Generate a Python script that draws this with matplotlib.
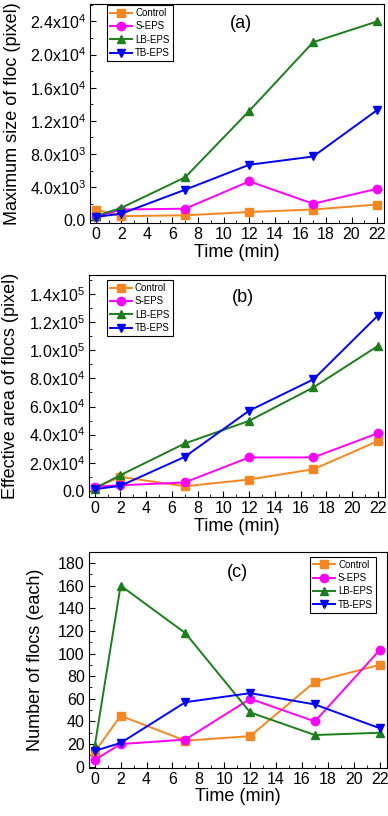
import numpy as np
import matplotlib
matplotlib.use('Agg')
import matplotlib.pyplot as plt
from matplotlib.ticker import FuncFormatter, MultipleLocator

plt.rcParams['font.family'] = ['Liberation Sans', 'DejaVu Sans']
plt.rcParams['mathtext.fontset'] = 'custom'
plt.rcParams['mathtext.rm'] = 'Liberation Sans'
plt.rcParams['mathtext.it'] = 'Liberation Sans'

# %% data
time = [0, 2, 7, 12, 17, 22]
series = ['Control', 'S-EPS', 'LB-EPS', 'TB-EPS']

max_size = {
    'Control': [1300, 500, 600, 1000, 1300, 1900],
    'S-EPS':   [400, 1300, 1400, 4700, 2000, 3800],
    'LB-EPS':  [500, 1500, 5200, 13200, 21500, 24000],
    'TB-EPS':  [400, 800, 3700, 6700, 7700, 13300],
}
eff_area = {
    'Control': [2400, 10000, 3300, 8100, 15400, 35400],
    'S-EPS':   [3000, 4000, 6000, 23800, 23800, 41000],
    'LB-EPS':  [1700, 11200, 33700, 49800, 73600, 103000],
    'TB-EPS':  [1200, 3600, 24200, 57000, 79300, 124600],
}
n_flocs = {
    'Control': [13, 45, 23, 27, 75, 90],
    'S-EPS':   [6, 20, 24, 60, 40, 103],
    'LB-EPS':  [18, 160, 118, 48, 28, 30],
    'TB-EPS':  [14, 21, 57, 65, 55, 34],
}

colors = {'Control': '#F7861E', 'S-EPS': '#FF00FF', 'LB-EPS': '#1B7F1B', 'TB-EPS': '#0000FF'}
markers = {'Control': 's', 'S-EPS': 'o', 'LB-EPS': '^', 'TB-EPS': 'v'}


def sci_fmt(v, pos):
    if abs(v) < 1e-9:
        return '0.0'
    e = int(np.floor(np.log10(abs(v)) + 1e-9))
    m = v / 10**e
    return f'{m:.1f}x10$^{{{e}}}$'


def panel(ax, data, tag, ylabel, ylim, ymaj, ymin, fmt, leg_loc, leg_anchor, tag_xy, ylab_x):
    for s in series:
        ax.plot(time, data[s], color=colors[s], marker=markers[s], markersize=6,
                linewidth=1.4, label=s)
    ax.set_xlim(-0.45, 22.55)
    ax.set_ylim(*ylim)
    ax.xaxis.set_major_locator(MultipleLocator(2))
    ax.xaxis.set_minor_locator(MultipleLocator(1))
    ax.yaxis.set_major_locator(MultipleLocator(ymaj))
    ax.yaxis.set_minor_locator(MultipleLocator(ymin))
    if fmt is not None:
        ax.yaxis.set_major_formatter(FuncFormatter(fmt))
    ax.tick_params(which='both', direction='in', labelsize=11.5, pad=3)
    ax.tick_params(which='major', length=4)
    ax.tick_params(which='minor', length=2)
    ax.set_xlabel('Time (min)', fontsize=13)
    ax.xaxis.set_label_coords(0.5, -0.095)
    ax.set_ylabel(ylabel, fontsize=13)
    ax.yaxis.set_label_coords(ylab_x, 0.5)
    ax.text(tag_xy[0], tag_xy[1], tag, transform=ax.transAxes, fontsize=13,
            ha='center', va='center')
    leg = ax.legend(loc=leg_loc, bbox_to_anchor=leg_anchor, fontsize=7,
                    borderaxespad=0, fancybox=False, edgecolor='black',
                    framealpha=1, handlelength=2.3, labelspacing=0.35,
                    borderpad=0.3, handletextpad=0.3, markerscale=1.0)
    leg.get_frame().set_linewidth(0.8)


fig = plt.figure(figsize=(3.88, 8.16), dpi=100)
ax1 = fig.add_axes([0.232, 0.727, 0.758, 0.268])
ax2 = fig.add_axes([0.229, 0.391, 0.763, 0.272])
ax3 = fig.add_axes([0.229, 0.059, 0.768, 0.265])

panel(ax1, max_size, '(a)', 'Maximum size of floc (pixel)', (-300, 26100), 4000, 2000,
      sci_fmt, 'upper left', (0.058, 0.995), (0.514, 0.913), -0.235)
panel(ax2, eff_area, '(b)', 'Effective area of flocs (pixel)', (-4300, 153500), 20000, 10000,
      sci_fmt, 'upper left', (0.06, 0.977), (0.52, 0.90), -0.235)
panel(ax3, n_flocs, '(c)', 'Number of flocs (each)', (-1, 190), 20, 10,
      None, 'upper right', (0.963, 0.977), (0.50, 0.903), -0.15)

fig.savefig('out.png', dpi=100)
